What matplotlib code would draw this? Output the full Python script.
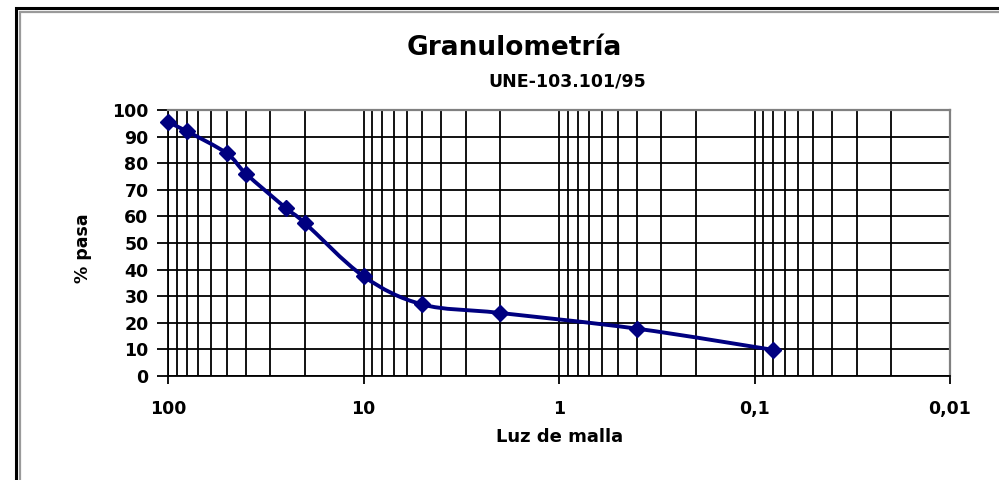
import numpy as np
import matplotlib
matplotlib.use("Agg")
import matplotlib.pyplot as plt
from matplotlib.path import Path
from matplotlib.patches import PathPatch, Rectangle
from matplotlib.ticker import FixedLocator, FixedFormatter, LogLocator, NullFormatter

# ---- data ----
luz_malla = [100, 80, 50, 40, 25, 20, 10, 5, 2, 0.4, 0.08]
pct_pasa = [95.4, 92.0, 83.7, 76.1, 63.2, 57.6, 37.5, 26.9, 23.7, 17.8, 9.8]
x_major = [100, 10, 1, 0.1, 0.01]
x_major_labels = ["100", "10", "1", "0,1", "0,01"]
y_ticks = list(range(0, 101, 10))

title = "Granulometría"
subtitle = "UNE-103.101/95"
xlabel = "Luz de malla"
ylabel = "% pasa"

plt.rcParams['font.family'] = ['DejaVu Sans']

W, H = 999, 480
fig = plt.figure(figsize=(W / 100, H / 100), dpi=100)
fig.patch.set_facecolor('white')

# frame lines (double border)
fig.add_artist(Rectangle((15.5 / W, -0.1), 1.2, 1 - 7.5 / H + 0.1, transform=fig.transFigure,
                         fill=False, edgecolor='black', linewidth=2.2))
fig.add_artist(Rectangle((20 / W, -0.1), 1.2, 1 - 11.5 / H + 0.1, transform=fig.transFigure,
                         fill=False, edgecolor='#9a9a9a', linewidth=1.6))

L, R, T, B = 168, 950, 110, 376
ax = fig.add_axes([L / W, 1 - B / H, (R - L) / W, (B - T) / H])
ax.set_xscale('log')
ax.set_xlim(100, 0.01)
ax.set_ylim(0, 100)

ax.xaxis.set_major_locator(FixedLocator(x_major))
ax.xaxis.set_major_formatter(FixedFormatter(x_major_labels))
ax.xaxis.set_minor_locator(LogLocator(base=10, subs=np.arange(2, 10)))
ax.xaxis.set_minor_formatter(NullFormatter())
ax.yaxis.set_major_locator(FixedLocator(y_ticks))

ax.grid(True, which='major', axis='both', color='black', linewidth=1.3)
ax.grid(True, which='minor', axis='x', color='black', linewidth=1.3)
ax.set_axisbelow(True)

ax.tick_params(axis='x', which='major', direction='out', length=6, width=1.3, color='black',
               labelsize=12.5, pad=11)
ax.tick_params(axis='x', which='minor', length=0)
ax.tick_params(axis='y', which='major', direction='out', length=8, width=1.3, color='black',
               labelsize=12.5, pad=6)
for lab in ax.get_xticklabels() + ax.get_yticklabels():
    lab.set_fontweight('bold')

for s in ['left', 'bottom']:
    ax.spines[s].set_color('black')
    ax.spines[s].set_linewidth(1.3)
for s in ['top', 'right']:
    ax.spines[s].set_color('#808080')
    ax.spines[s].set_linewidth(1.6)

# smoothed line (Catmull-Rom style bezier in log-x space)
lx = np.log10(np.array(luz_malla, dtype=float))
yy = np.array(pct_pasa, dtype=float)
P = np.column_stack([lx, yy])
n = len(P)
verts = [P[0]]
codes = [Path.MOVETO]
for i in range(n - 1):
    p0 = P[i - 1] if i > 0 else P[i]
    p1 = P[i]
    p2 = P[i + 1]
    p3 = P[i + 2] if i + 2 < n else P[i + 1]
    c1 = p1 + (p2 - p0) / 6.0
    c2 = p2 - (p3 - p1) / 6.0
    verts += [c1, c2, p2]
    codes += [Path.CURVE4] * 3
verts = np.array(verts)
verts[:, 0] = 10 ** verts[:, 0]
path = Path(verts, codes)
ax.add_patch(PathPatch(path, fill=False, edgecolor='#000080', linewidth=2.8, zorder=3,
                       capstyle='round', joinstyle='round'))
ax.plot(luz_malla, pct_pasa, linestyle='none', marker='D', markersize=8.5,
        color='#000080', zorder=4, clip_on=False)

fig.text(514 / W, 1 - 48 / H, title, ha='center', va='center', fontsize=19, fontweight='bold')
fig.text(567 / W, 1 - 82 / H, subtitle, ha='center', va='center', fontsize=12.5, fontweight='bold')
fig.text(560 / W, 1 - 437 / H, xlabel, ha='center', va='center', fontsize=13, fontweight='bold')
fig.text(83 / W, 1 - 248 / H, ylabel, ha='center', va='center', fontsize=12.5, fontweight='bold',
         rotation=90)

fig.savefig('out.png', dpi=100)
